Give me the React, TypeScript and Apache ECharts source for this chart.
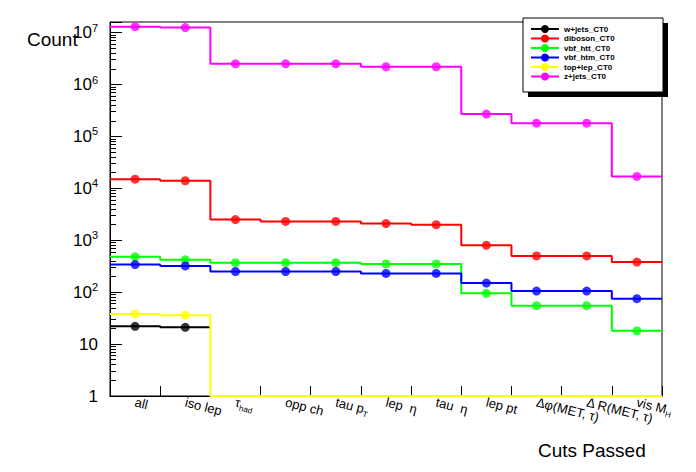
import { useEffect, useRef } from 'react'
import * as echarts from 'echarts'

const CUTS = ['all', 'iso lep', '{sym|τ}{sub|had}', 'opp ch', 'tau p{sub|T}', 'lep  η', 'tau  η', 'lep pt', 'Δφ(MET, τ)', 'Δ R(MET, τ)', 'vis M{sub|H}']
const WJETS = [22, 21]
const DIBOSON = [15000, 14000, 2500, 2300, 2300, 2100, 2000, 800, 500, 500, 380]
const VBF_HTT = [480, 420, 370, 370, 370, 350, 350, 95, 55, 55, 18]
const VBF_HTM = [340, 320, 250, 250, 250, 230, 230, 150, 105, 105, 75]
const TOPLEP = [38, 36, 1, 1, 1, 1, 1, 1, 1, 1, 1]
const TOPLEP_MARKS = [38, 36]
const ZJETS = [1.3e7, 1.25e7, 2.5e6, 2.5e6, 2.5e6, 2.2e6, 2.2e6, 2.7e5, 1.8e5, 1.8e5, 1.7e4]
const SUP = ['', '', '2', '3', '4', '5', '6', '7']

const SERIES = [
  { name: 'w+jets_CT0', color: '#000000', vals: WJETS, marks: WJETS },
  { name: 'diboson_CT0', color: '#ff0000', vals: DIBOSON, marks: DIBOSON },
  { name: 'vbf_htt_CT0', color: '#00ff00', vals: VBF_HTT, marks: VBF_HTT },
  { name: 'vbf_htm_CT0', color: '#0000ff', vals: VBF_HTM, marks: VBF_HTM },
  { name: 'top+lep_CT0', color: '#ffff00', vals: TOPLEP, marks: TOPLEP_MARKS },
  { name: 'z+jets_CT0', color: '#ff00ff', vals: ZJETS, marks: ZJETS },
]

export default function App() {
  const ref = useRef<HTMLDivElement>(null)

  useEffect(() => {
    if (!ref.current) return
    const chart = echarts.init(ref.current, null, { renderer: 'svg' })
    const series: any[] = []
    SERIES.forEach((s) => {
      const steps = s.vals.map((v, i) => [i, v])
      steps.push([s.vals.length, s.vals[s.vals.length - 1]])
      series.push({
        name: s.name, type: 'line', step: 'end', data: steps, showSymbol: false, symbol: 'circle',
        lineStyle: { color: s.color, width: 2 }, itemStyle: { color: s.color }, symbolSize: 9,
      })
      series.push({
        name: s.name, type: 'scatter', data: s.marks.map((v, i) => [i + 0.5, v]),
        symbol: 'circle', symbolSize: 9, itemStyle: { color: s.color },
      })
    })
    chart.setOption({
      animation: false,
      textStyle: { fontFamily: 'Liberation Sans' },
      grid: { left: 102, right: 26, top: 14, bottom: 68, show: true, borderColor: '#000', borderWidth: 1 },
      legend: {
        left: 517, top: 12, orient: 'vertical', itemGap: 1.5, itemWidth: 28, itemHeight: 10,
        data: SERIES.map((s) => ({ name: s.name })),
        textStyle: { fontSize: 8, fontWeight: 'bold', color: '#000', fontFamily: 'Liberation Sans' },
      },
      graphic: [
        { type: 'rect', shape: { x: 520, y: 15, width: 140, height: 74 }, style: { fill: '#000' }, z: 1 },
        { type: 'rect', shape: { x: 515, y: 10, width: 140, height: 74 }, style: { fill: '#fff', stroke: '#000', lineWidth: 1 }, z: 2 },
        { type: 'text', left: 19, top: 22, style: { text: 'Count', fontSize: 19, fill: '#000', fontFamily: 'Liberation Sans' } },
        { type: 'text', left: 530, top: 433, style: { text: 'Cuts Passed', fontSize: 19, fill: '#000', fontFamily: 'Liberation Sans' } },
      ],
      xAxis: [
        {
          type: 'value', min: 0, max: 11, interval: 1,
          axisLine: { lineStyle: { color: '#000' } },
          axisTick: { inside: true, length: 10, lineStyle: { color: '#000' } },
          axisLabel: { show: false }, splitLine: { show: false },
        },
        {
          type: 'category', position: 'bottom', data: CUTS, boundaryGap: true,
          axisLine: { show: false }, axisTick: { show: false },
          axisLabel: {
            rotate: -14, fontSize: 13, color: '#000', margin: 6, interval: 0,
            rich: { sub: { fontSize: 8, verticalAlign: 'bottom', padding: [10, 0, 0, 0] }, sym: { fontSize: 13 } },
          },
        },
      ],
      yAxis: [
        {
          type: 'log', min: 1, max: 1.6e7, logBase: 10,
          axisLine: { lineStyle: { color: '#000' } },
          axisTick: { inside: true, length: 12, lineStyle: { color: '#000' } },
          minorTick: { show: true, splitNumber: 9, length: 6, lineStyle: { color: '#000' } },
          splitLine: { show: false },
          axisLabel: {
            fontSize: 17, color: '#000', margin: 12,
            formatter: (v: number) => {
              const e = Math.round(Math.log10(v))
              if (e === 0) return '1'
              if (e === 1) return '10'
              return '10{sup|' + SUP[e] + '}'
            },
            rich: { sup: { fontSize: 11, verticalAlign: 'top', padding: [0, 0, 10, 0] } },
          },
        },
      ],
      series,
    })
    return () => chart.dispose()
  }, [])

  return <div ref={ref} style={{ width: 680, height: 456 }} />
}
